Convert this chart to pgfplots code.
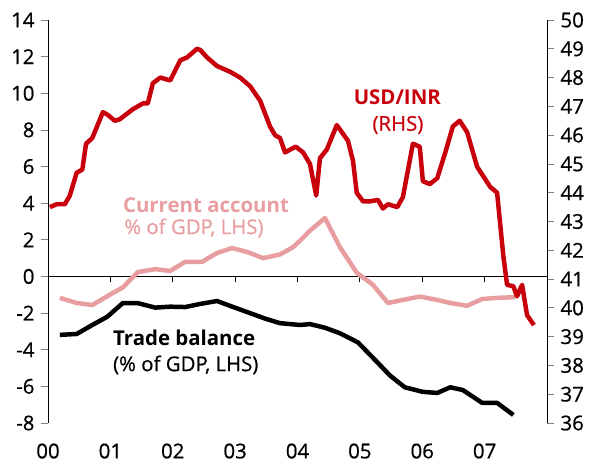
\documentclass[border=0pt]{standalone}
\usepackage{pgfplots}
\pgfplotsset{compat=1.18}
\usepackage{fontspec}
\setmainfont{Open Sans}[UprightFeatures={FakeBold=0.6}]
\definecolor{inrred}{RGB}{200,0,12}
\definecolor{capink}{RGB}{232,158,160}
\begin{document}
\begin{tikzpicture}[font=\fontsize{20.5}{24}\selectfont]
\begin{axis}[
  width=499bp, height=403bp, scale only axis,
  xmin=0, xmax=8, ymin=-8, ymax=14,
  axis y line*=left, axis x line*=bottom,
  x axis line style={draw=none},
  xtick={0,1,2,3,4,5,6,7},
  xticklabels={00,01,02,03,04,05,06,07},
  xtick style={draw=none},
  ytick={-8,-6,-4,-2,0,2,4,6,8,10,12,14},
  tick align=outside, major tick length=7bp,
  y axis line style={line width=0.8pt},
  ytick style={line width=0.8pt},
  /pgf/number format/assume math mode=true,
  yticklabel style={xshift=-3bp},
  xticklabel style={yshift=-10bp},
  clip=false,
  line join=round,
]
\addplot[black, line width=0.8pt] coordinates {(0,0) (8,0)};
\pgfplotsinvokeforeach{1,...,7}{\draw[line width=0.8pt] (axis cs:#1,0) -- ([yshift=-6bp]axis cs:#1,0);}
% Trade balance
\addplot[black, line width=4.5pt, no markers] coordinates {
(0.19,-3.19)(0.46,-3.14)(0.71,-2.65)(0.95,-2.2)(1.20,-1.45)(1.43,-1.45)(1.72,-1.7)(1.96,-1.65)(2.20,-1.67)(2.44,-1.5)(2.71,-1.34)(2.97,-1.67)(3.19,-1.94)(3.48,-2.3)(3.72,-2.55)(4.04,-2.65)(4.20,-2.6)(4.44,-2.8)(4.68,-3.1)(4.97,-3.6)(5.27,-4.65)(5.48,-5.4)(5.72,-6.05)(6.01,-6.3)(6.24,-6.36)(6.45,-6.05)(6.65,-6.2)(6.96,-6.9)(7.20,-6.9)(7.46,-7.56)
};
% Current account
\addplot[capink, line width=4.5pt, no markers] coordinates {
(0.19,-1.17)(0.46,-1.45)(0.71,-1.56)(0.99,-1.0)(1.20,-0.6)(1.44,0.24)(1.72,0.4)(1.96,0.3)(2.20,0.8)(2.47,0.8)(2.71,1.28)(2.95,1.55)(3.19,1.34)(3.45,1.0)(3.72,1.2)(3.93,1.6)(4.04,1.95)(4.20,2.5)(4.44,3.19)(4.68,1.6)(4.95,0.2)(5.11,-0.2)(5.21,-0.46)(5.45,-1.45)(5.69,-1.28)(5.96,-1.1)(6.24,-1.28)(6.45,-1.45)(6.72,-1.6)(6.96,-1.23)(7.20,-1.17)(7.49,-1.13)
};
\node[anchor=west, text=capink, inner sep=0pt] at (axis cs:1.20,3.9) {\bfseries Current account};
\node[anchor=west, text=capink, inner sep=0pt] at (axis cs:1.22,2.65) {\% of GDP, LHS)};
\node[anchor=west, text=black, inner sep=0pt] at (axis cs:1.04,-3.36) {\bfseries Trade balance};
\node[anchor=west, text=black, inner sep=0pt] at (axis cs:1.04,-4.83) {(\% of GDP, LHS)};
\node[text=inrred, inner sep=0pt] at (axis cs:5.6,9.8) {\bfseries USD/INR};
\node[text=inrred, inner sep=0pt] at (axis cs:5.61,8.27) {(RHS)};
\end{axis}
\begin{axis}[
  width=499bp, height=403bp, scale only axis,
  xmin=0, xmax=8, ymin=36, ymax=50,
  axis y line*=right, axis x line=none,
  ytick={36,37,...,50},
  tick align=outside, major tick length=7bp,
  y axis line style={line width=0.8pt},
  ytick style={line width=0.8pt},
  /pgf/number format/assume math mode=true,
  yticklabel style={xshift=3bp},
  clip=false,
  line join=round,
]
\addplot[inrred, line width=4.5pt, no markers] coordinates {
(0.03,43.5)(0.14,43.6)(0.27,43.6)(0.35,43.9)(0.46,44.7)(0.55,44.8)(0.61,45.7)(0.71,45.9)(0.88,46.8)(0.96,46.7)(1.07,46.5)(1.15,46.55)(1.36,46.9)(1.52,47.1)(1.60,47.1)(1.68,47.8)(1.80,48.0)(1.96,47.9)(2.12,48.6)(2.23,48.7)(2.39,49.0)(2.44,48.96)(2.55,48.7)(2.71,48.4)(2.92,48.2)(3.08,48.0)(3.24,47.7)(3.40,47.2)(3.56,46.3)(3.64,46.0)(3.72,45.9)(3.80,45.4)(3.97,45.6)(4.09,45.4)(4.20,45.0)(4.30,43.9)(4.36,45.2)(4.47,45.5)(4.63,46.35)(4.81,45.8)(4.89,45.1)(4.95,44.0)(5.05,43.7)(5.16,43.7)(5.29,43.75)(5.37,43.45)(5.45,43.6)(5.60,43.5)(5.69,43.85)(5.85,45.7)(5.96,45.6)(6.01,44.4)(6.12,44.3)(6.24,44.5)(6.37,45.4)(6.49,46.3)(6.60,46.5)(6.72,46.1)(6.88,44.9)(6.97,44.6)(7.09,44.2)(7.20,44.0)(7.30,41.8)(7.36,40.8)(7.46,40.75)(7.52,40.4)(7.60,40.8)(7.68,39.75)(7.79,39.4)
};
\end{axis}
\pgfresetboundingbox
\path ([xshift=-48bp,yshift=-42bp]current axis.south west) rectangle ([xshift=43bp,yshift=20bp]current axis.north east);
\end{tikzpicture}
\end{document}
